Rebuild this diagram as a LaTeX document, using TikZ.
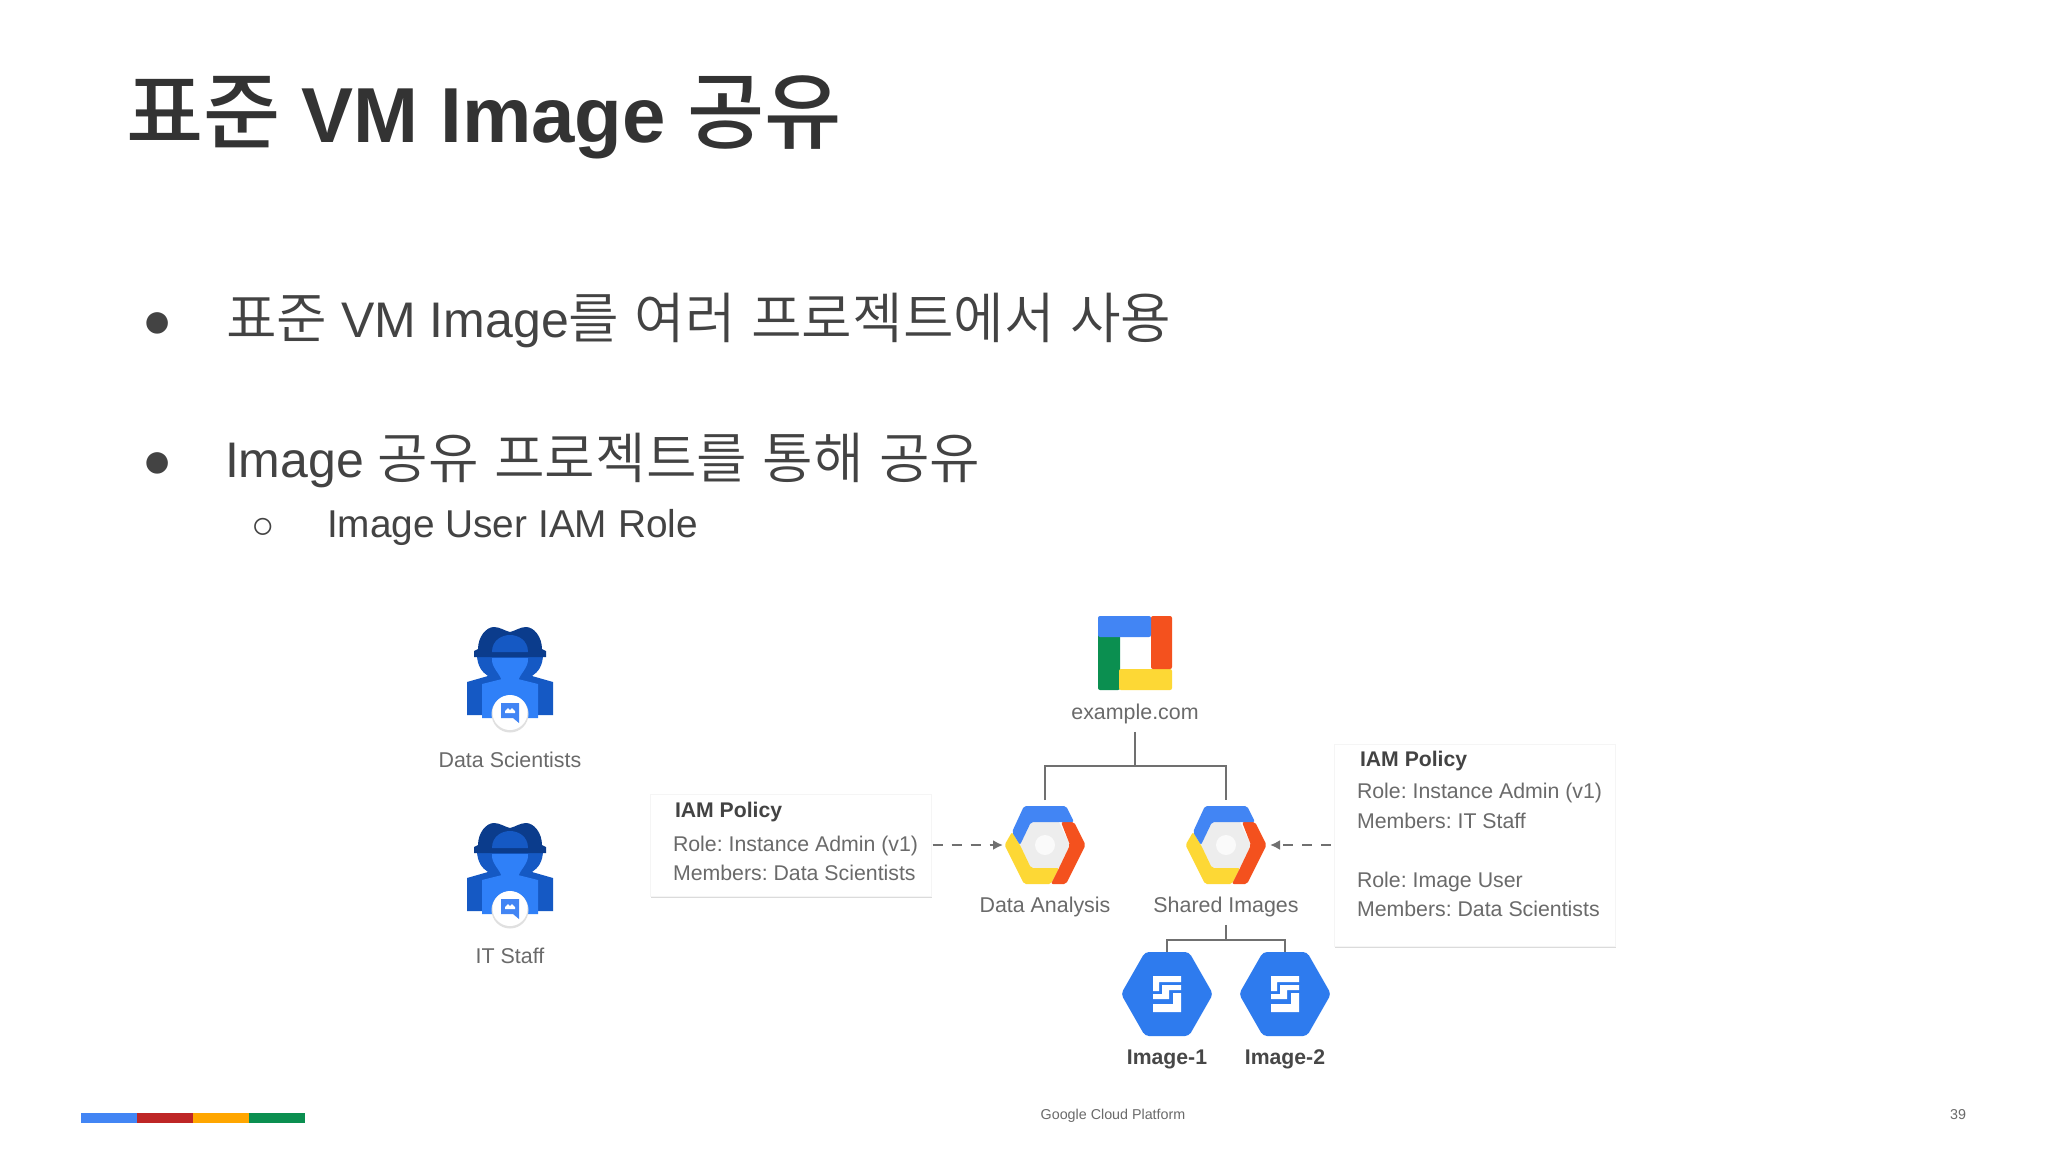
\documentclass[tikz,border=0pt]{standalone}
\usepackage{fontspec}
\setmainfont{Liberation Sans}
\newfontfamily\kr[Scale=1.1,WordSpace=1.25,UprightFont=* DemiLight]{Noto Sans CJK KR}
\newfontfamily\krt[Scale=1.075,UprightFont=* Medium,BoldFont=* Medium]{Noto Sans CJK KR}
\usetikzlibrary{arrows.meta}
\definecolor{inkdark}{HTML}{333333}
\definecolor{inkbody}{HTML}{434343}
\definecolor{inklabel}{HTML}{6A6A6A}
\definecolor{gline}{HTML}{707070}
\definecolor{gblue}{HTML}{4285F4}
\definecolor{gred}{HTML}{F4511E}
\definecolor{gyellow}{HTML}{FDD835}
\definecolor{ggreen}{HTML}{0B8F50}
\definecolor{pdark}{HTML}{0B3C8C}
\definecolor{pmid}{HTML}{1559C4}
\definecolor{plight}{HTML}{2F80F8}
\definecolor{imgblue}{HTML}{2E7BEE}
\newcommand{\fsz}[1]{\fontsize{#1}{#1}\selectfont}
\newcommand{\KB}[1]{\raisebox{-0.9pt}{\kr #1}}
\frenchspacing
\tikzset{
  x=0.5pt,y=-0.5pt,
  txt/.style={inner sep=0pt,outer sep=0pt,anchor=base west},
  titletext/.style={txt,text=inkdark,font=\fsz{39}\bfseries},
  maintext/.style={txt,text=inkbody,font=\fsz{25}},
  subitem/.style={txt,text=inkbody,font=\fsz{19.4}},
  lbl/.style={inner sep=0pt,anchor=base,text=inklabel,font=\fsz{10.7}},
  lblb/.style={lbl,text=inkdark!90,font=\fsz{10.6}\bfseries},
  boxt/.style={txt,text=inklabel,font=\fsz{10.65}},
  boxh/.style={txt,text=inkbody,font=\fsz{10.6}\bfseries},
  card/.style={inner sep=0pt,outer sep=0pt,fill=white,draw=black!4,line width=0.4pt,
    preaction={fill=black!14,transform canvas={yshift=-1pt}}},
  wire/.style={draw=gline,line width=1.1pt},
  dasharrow/.style={draw=gline,line width=1.1pt,dash pattern=on 5pt off 4.5pt,-{Latex[length=5pt,width=5pt]}},
  icon/.style={inner sep=0pt,outer sep=0pt,minimum width=#1,minimum height=#1},
}
\newcommand{\person}[2]{%
\begin{scope}[shift={(#1,#2)}]
 \fill[pmid] (-43,2) -- (-22,-4) -- (22,-4) -- (43,2) -- (43,35) -- (-43,35) -- cycle;
 \fill[pmid] (-33,-26) -- (33,-26) .. controls (33,-14) and (28,-8) .. (22,-4) -- (0,6) -- (-22,-4) .. controls (-28,-8) and (-33,-14) .. (-33,-26) -- cycle;
 \fill[plight] (-28,4) -- (-8,-1) -- (8,-1) -- (28,4) -- (28,38) -- (-28,38) -- cycle;
 \fill[pdark] (-36,-29) -- (-32,-31) .. controls (-32,-43) and (-24,-53) .. (-16,-53) .. controls (-10,-53) and (-5,-49) .. (0,-48) .. controls (5,-49) and (10,-53) .. (16,-53) .. controls (24,-53) and (32,-43) .. (32,-31) -- (36,-29) -- (36,-23) -- (-36,-23) -- cycle;
 \fill[pmid] (-18,-28) .. controls (-18,-40) and (-8,-45) .. (0,-45) .. controls (8,-45) and (18,-40) .. (18,-28) -- cycle;
 \fill[plight] (-18,-22) -- (18,-22) .. controls (19,-12) and (9,-6) .. (8,2) -- (-8,2) .. controls (-9,-6) and (-19,-12) .. (-18,-22) -- cycle;
 \fill[black!12] (0,34) circle[radius=18.5];
 \fill[white] (0,32.5) circle[radius=17.5];
 \fill[gblue] (-9,23) -- (9,23) -- (9,43) -- (3,38) -- (-9,38) -- cycle;
 \fill[white] (-5,31) -- (-2,28) -- (0,30) -- (2,28) -- (5,31) -- (5,33) -- (-5,33) -- cycle;
\end{scope}}
\newcommand{\cloudhex}[2]{%
\begin{scope}[shift={(#1,#2)}]
 \fill[black!7] (-25,0) -- (-14,-23) -- (14,-23) -- (25,0) -- (14,23) -- (-14,23) -- cycle;
 \fill[white!70!black!7] (0,0) circle[radius=10];
 \fill[gyellow,rounded corners=1pt] (-33,-13) -- (-40.5,0) -- (-21,39) -- (6,39) -- (14,23) -- (-14,23) -- (-25,0) -- cycle;
 \fill[gred,rounded corners=1pt] (16,-23) -- (29,-23) -- (40.5,0) -- (21,39) -- (6,39) -- (14,23) -- (25,0) -- cycle;
 \fill[gblue,rounded corners=1pt] (-21,-39) -- (21,-39) -- (29,-23) -- (-14,-23) -- (-25,0) -- (-33,-13) -- cycle;
\end{scope}}
\newcommand{\imagehex}[2]{%
\begin{scope}[shift={(#1,#2)}]
 \fill[imgblue,rounded corners=2pt] (-46,0) -- (-22,-42) -- (22,-42) -- (46,0) -- (22,42) -- (-22,42) -- cycle;
 \fill[white] (-14,-18) -- (14,-18) -- (14,-12) -- (-8,-12) -- (-8,-3) -- (-14,-3) -- cycle;
 \fill[white] (-5,-9) -- (14,-9) -- (14,-4) -- (2,-4) -- (2,5) -- (-14,5) -- (-14,0) -- (-5,0) -- cycle;
 \fill[white] (6,-1) -- (14,-1) -- (14,18) -- (-14,18) -- (-14,10) -- (6,10) -- cycle;
\end{scope}}
\begin{document}
\begin{tikzpicture}
\useasboundingbox (0,0) rectangle (2048,1152);
\fill[white] (0,0) rectangle (2048,1152);

% title and bullets
\node[titletext] (t) at (126,142) {{\krt 표준} VM Image {\krt 공유}};
\node[maintext,anchor=base] (b1) at (158,337) {●};
\node[maintext] (t1) at (226,337) {\KB{표준} VM Image\KB{를 여러 프로젝트에서 사용}};
\node[maintext,anchor=base] (b2) at (158,477) {●};
\node[maintext] (t2) at (225,477) {Image \KB{공유 프로젝트를 통해 공유}};
\node[subitem,anchor=base] (b3) at (263,538) {○};
\node[subitem] (t3) at (327,537) {Image User IAM Role};

% people
\person{510}{680}
\node[lbl] (ds) at (510,767) {Data Scientists};
\person{510}{876}
\node[lbl] (it) at (510,963) {IT Staff};

% org icon
\fill[ggreen,rounded corners=1pt] (1098,630) rectangle (1120,690);
\fill[gyellow,rounded corners=1pt] (1119,669) rectangle (1172,690);
\fill[gred,rounded corners=1pt] (1151,616) rectangle (1172,669);
\fill[gblue,rounded corners=1pt] (1098,616) rectangle (1151,637);
\node[icon=37pt] (org) at (1135,653) {};
\node[lbl] (ex) at (1135,719) {example.com};

% projects
\cloudhex{1045}{845}
\cloudhex{1226}{845}
\node[icon=39pt] (da) at (1045,845) {};
\node[icon=39pt] (si) at (1226,845) {};
\node[lbl] (dal) at (1045,912) {Data Analysis};
\node[lbl] (sil) at (1226,912) {Shared Images};

% images
\imagehex{1167}{994}
\imagehex{1285}{994}
\node[icon=42pt] (i1) at (1167,994) {};
\node[icon=42pt] (i2) at (1285,994) {};
\node[lblb] (i1l) at (1167,1064) {Image-1};
\node[lblb] (i2l) at (1285,1064) {Image-2};

% tree connectors
\coordinate (orgj) at (1135,766);
\coordinate (shj) at (1226,940);
\draw[wire] ([yshift=-4pt]ex.south) -- (orgj);
\draw[wire] ([yshift=3pt]da.north) |- (orgj) -| ([yshift=3pt]si.north);
\draw[wire] ([yshift=-4pt]sil.south) -- (shj);
\draw[wire] (i1.north) |- (shj) -| (i2.north);

% policy cards
\node[card,minimum width=140.5pt,minimum height=51pt] (c1) at (791,845) {};
\node[boxh] (c1h) at (675,817) {IAM Policy};
\node[boxt] (c1a) at (673,851) {Role: Instance Admin (v1)};
\node[boxt] (c1b) at (673,880) {Members: Data Scientists};

\node[card,minimum width=140.5pt,minimum height=101pt] (c2) at (1475,845) {};
\node[boxh] (c2h) at (1360,766) {IAM Policy};
\node[boxt] (c2a) at (1357,798) {Role: Instance Admin (v1)};
\node[boxt] (c2b) at (1357,828) {Members: IT Staff};
\node[boxt] (c2c) at (1357,887) {Role: Image User};
\node[boxt] (c2d) at (1357,916) {Members: Data Scientists};

% dashed arrows
\draw[dasharrow] ([xshift=0.5pt]c1.east) -- ([xshift=-1.5pt]da.west);
\draw[dasharrow] ([xshift=-2pt]c2.west) -- ([xshift=2.5pt]si.east);

% footer
\fill[gblue] (81,1113) rectangle (137,1123);
\fill[red!70!black!85!white] (137,1113) rectangle (193,1123);
\fill[orange!70!yellow] (193,1113) rectangle (249,1123);
\fill[ggreen] (249,1113) rectangle (305,1123);
\node[lbl,font=\fsz{7.15}] (gcp) at (1113,1119) {Google Cloud Platform};
\node[lbl,font=\fsz{7.15}] (pg) at (1958,1119) {39};
\end{tikzpicture}
\end{document}
